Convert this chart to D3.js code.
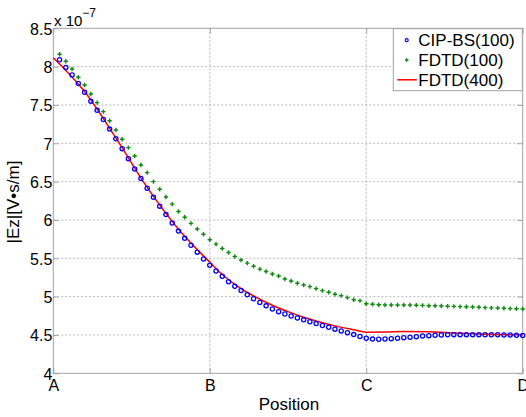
<!DOCTYPE html>
<html>
<head>
<meta charset="utf-8">
<script src="https://cdn.jsdelivr.net/npm/d3@7"></script>
<style>
  html, body { margin: 0; padding: 0; background: #fff; }
  #chart { width: 526px; height: 417px; }
  text { font-family: "Liberation Sans", Arial, "Noto Sans CJK JP", sans-serif; fill: #000; }
</style>
</head>
<body>
<div id="chart"></div>
<script>
// Position labels along the path A-B-C-D (index of sample point)
const tickPositions = [0, 25, 50, 75];
const tickLabels = ["A", "B", "C", "D"];
const yTicks = [4, 4.5, 5, 5.5, 6, 6.5, 7, 7.5, 8, 8.5];

// CIP-BS(100), samples 1..75  (units of 1e-7)
const cipValues = [
  8.09, 7.99, 7.89, 7.78, 7.665, 7.55, 7.43, 7.31, 7.185, 7.06,
  6.93, 6.80, 6.665, 6.54, 6.415, 6.295, 6.18, 6.07, 5.96, 5.855,
  5.76, 5.67, 5.58, 5.49, 5.41, 5.335, 5.265, 5.195, 5.135, 5.08,
  5.025, 4.972, 4.925, 4.88, 4.838, 4.804, 4.774, 4.748, 4.722, 4.697,
  4.672, 4.648, 4.624, 4.60, 4.576, 4.553, 4.53, 4.505, 4.48, 4.458,
  4.446, 4.444, 4.447, 4.452, 4.458, 4.465, 4.470, 4.478, 4.486, 4.491,
  4.496, 4.50, 4.503, 4.504, 4.504, 4.504, 4.504, 4.504, 4.503, 4.503,
  4.502, 4.50, 4.499, 4.496, 4.492
];

// FDTD(100), samples 1..75
const fdtd100Values = [
  8.161, 8.07, 7.969, 7.861, 7.761, 7.643, 7.53, 7.413, 7.295, 7.174,
  7.052, 6.943, 6.834, 6.717, 6.617, 6.50, 6.40, 6.30, 6.206, 6.11,
  6.035, 5.955, 5.883, 5.813, 5.741, 5.685, 5.628, 5.576, 5.524, 5.478,
  5.437, 5.396, 5.359, 5.327, 5.295, 5.269, 5.23, 5.204, 5.174, 5.152,
  5.13, 5.104, 5.078, 5.057, 5.031, 5.013, 4.987, 4.96, 4.948, 4.908,
  4.90, 4.895, 4.891, 4.891, 4.891, 4.891, 4.89, 4.887, 4.886, 4.882,
  4.881, 4.878, 4.875, 4.873, 4.87, 4.868, 4.865, 4.861, 4.857, 4.853,
  4.851, 4.848, 4.844, 4.842, 4.839
];

// FDTD(400), drawn as a line
const fdtd400Positions = [0, 5, 10, 15, 20, 25, 27, 30, 32, 35, 37.5, 40, 43, 45.5, 48, 50, 53, 56, 60, 63, 67, 71, 75];
const fdtd400Values = [8.117, 7.675, 7.07, 6.425, 5.88, 5.45, 5.288, 5.105, 5.01, 4.888, 4.804, 4.73, 4.66, 4.609, 4.568, 4.537, 4.538, 4.545, 4.543, 4.53, 4.515, 4.506, 4.502];

const seriesNames = ["CIP-BS(100)", "FDTD(100)", "FDTD(400)"];

const width = 526, height = 417;
const margins = { left: 53.3, right: 3.3, top: 28.3, bottom: 43.7 };
const innerWidth = width - margins.left - margins.right;
const innerHeight = height - margins.top - margins.bottom;

const svg = d3.select("#chart").append("svg")
    .attr("width", width)
    .attr("height", height);

const g = svg.append("g")
    .attr("transform", `translate(${margins.left},${margins.top})`);

const x = d3.scaleLinear().domain([0, 75]).range([0, innerWidth]);
const y = d3.scaleLinear().domain([4, 8.5]).range([innerHeight, 0]);

const samples = d3.range(1, cipValues.length + 1);
const cipData = samples.map((p, i) => ({ p, v: cipValues[i] }));
const fdtdData = samples.map((p, i) => ({ p, v: fdtd100Values[i] }));
const fineData = fdtd400Positions.map((p, i) => ({ p, v: fdtd400Values[i] }));

// Grid lines (dotted)
g.append("g")
    .selectAll("line")
    .data(yTicks.slice(1, -1))
    .enter()
    .append("line")
    .attr("x1", 0).attr("x2", innerWidth)
    .attr("y1", d => y(d)).attr("y2", d => y(d))
    .attr("stroke", "#b8b8b8")
    .attr("stroke-dasharray", "2,2");

g.append("g")
    .selectAll("line")
    .data(tickPositions.slice(1, -1))
    .enter()
    .append("line")
    .attr("x1", d => x(d)).attr("x2", d => x(d))
    .attr("y1", 0).attr("y2", innerHeight)
    .attr("stroke", "#b8b8b8")
    .attr("stroke-dasharray", "2,2");

// Axes: ticks point inward, labels drawn by d3.axis
const axisColor = "#a3a3a3";

const yAxis = g.append("g")
    .call(d3.axisLeft(y).tickValues(yTicks).tickSize(-5).tickPadding(4).tickFormat(d3.format("")));
yAxis.select(".domain").remove();
yAxis.selectAll(".tick line").attr("stroke", axisColor);
yAxis.selectAll(".tick text")
    .attr("font-size", "16px")
    .attr("font-family", null)
    .attr("x", -1)
    .attr("dy", "0.36em");

const yAxisRight = g.append("g")
    .attr("transform", `translate(${innerWidth},0)`)
    .call(d3.axisRight(y).tickValues(yTicks).tickSize(-5).tickFormat(""));
yAxisRight.select(".domain").remove();
yAxisRight.selectAll(".tick line").attr("stroke", axisColor);

const xAxis = g.append("g")
    .attr("transform", `translate(0,${innerHeight})`)
    .call(d3.axisBottom(x).tickValues(tickPositions).tickSize(-5).tickFormat((d, i) => tickLabels[i]));
xAxis.select(".domain").remove();
xAxis.selectAll(".tick line").attr("stroke", axisColor);
xAxis.selectAll(".tick text")
    .attr("font-size", "16px")
    .attr("font-family", null)
    .attr("y", 6)
    .attr("dy", "0.71em");

const xAxisTop = g.append("g")
    .call(d3.axisTop(x).tickValues(tickPositions).tickSize(-5).tickFormat(""));
xAxisTop.select(".domain").remove();
xAxisTop.selectAll(".tick line").attr("stroke", axisColor);

// Box
g.append("rect")
    .attr("width", innerWidth)
    .attr("height", innerHeight)
    .attr("fill", "none")
    .attr("stroke", axisColor)
    .attr("stroke-width", 1);

// FDTD(400) line
const line = d3.line()
    .x(d => x(d.p))
    .y(d => y(d.v))
    .curve(d3.curveMonotoneX);

g.append("path")
    .datum(fineData)
    .attr("fill", "none")
    .attr("stroke", "#ff0000")
    .attr("stroke-width", 1.5)
    .attr("d", line);

// CIP-BS(100) circles
g.selectAll("circle.cip")
    .data(cipData)
    .enter()
    .append("circle")
    .attr("class", "cip")
    .attr("cx", d => x(d.p))
    .attr("cy", d => y(d.v))
    .attr("r", 2.1)
    .attr("fill", "none")
    .attr("stroke", "#0000ff")
    .attr("stroke-width", 1.3);

// FDTD(100) plus markers
g.selectAll("path.fdtd")
    .data(fdtdData)
    .enter()
    .append("path")
    .attr("class", "fdtd")
    .attr("transform", d => `translate(${x(d.p)},${y(d.v)})`)
    .attr("d", "M-2.2,0H2.2M0,-2.2V2.2")
    .attr("stroke", "#108a10")
    .attr("stroke-width", 1.4);

// Exponent label
const expo = svg.append("text")
    .attr("x", 54)
    .attr("y", 26)
    .attr("font-size", "15px");
expo.append("tspan").text("x 10");
expo.append("tspan")
    .attr("font-size", "12px")
    .attr("dy", -9)
    .text("\u22127");

// Axis titles
svg.append("text")
    .attr("x", margins.left + innerWidth / 2 + 1)
    .attr("y", 410)
    .attr("text-anchor", "middle")
    .attr("font-size", "17px")
    .text("Position");

svg.append("text")
    .attr("transform", "translate(19,202) rotate(-90)")
    .attr("text-anchor", "middle")
    .attr("font-size", "17px")
    .text("|Ez|[V\u2022s/m]");

// Legend
const legend = svg.append("g")
    .attr("transform", "translate(393.3,28.7)");

legend.append("rect")
    .attr("width", 129)
    .attr("height", 62)
    .attr("fill", "#fff")
    .attr("stroke", axisColor);

const rows = legend.selectAll("g.row")
    .data(seriesNames)
    .enter()
    .append("g")
    .attr("class", "row")
    .attr("transform", (d, i) => `translate(0,${11.5 + i * 19.8})`);

rows.append("text")
    .attr("x", 25)
    .attr("dy", "0.36em")
    .attr("font-size", "17px")
    .text(d => d);

rows.filter((d, i) => i === 0).append("circle")
    .attr("cx", 13.4)
    .attr("r", 1.5)
    .attr("fill", "none")
    .attr("stroke", "#0000ff")
    .attr("stroke-width", 1.2);

rows.filter((d, i) => i === 1).append("path")
    .attr("transform", "translate(13.4,0)")
    .attr("d", "M-1.8,0H1.8M0,-1.8V1.8")
    .attr("stroke", "#108a10")
    .attr("stroke-width", 1.3);

rows.filter((d, i) => i === 2).append("line")
    .attr("x1", 4).attr("x2", 23.5)
    .attr("stroke", "#ff0000")
    .attr("stroke-width", 1.5);
</script>
</body>
</html>
